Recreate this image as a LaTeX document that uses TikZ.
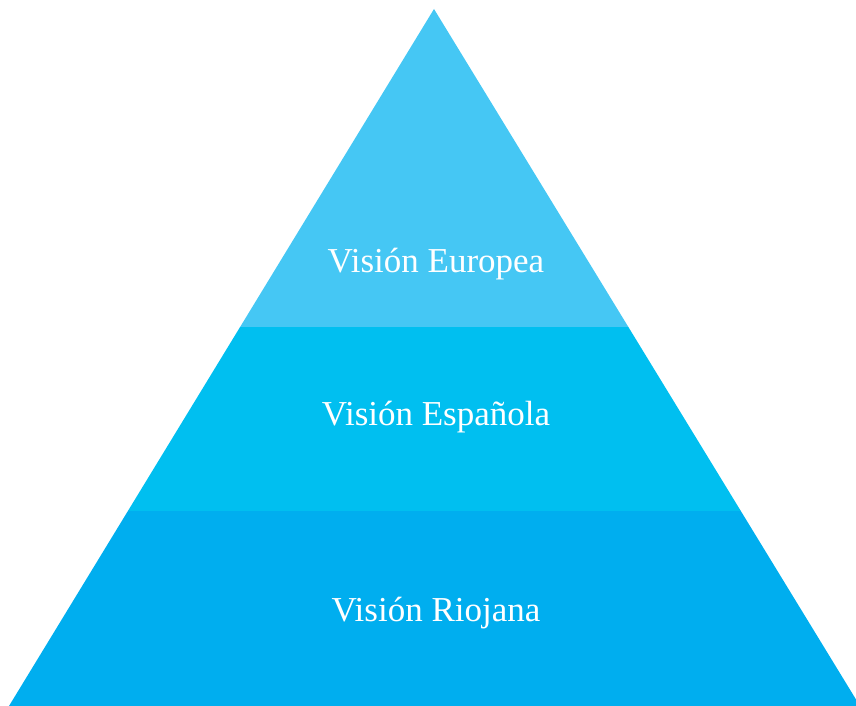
\documentclass[tikz,border=0pt]{standalone}
\usepackage{fontspec}
\setmainfont{Liberation Serif}
\definecolor{topblue}{RGB}{69,199,244}
\definecolor{midblue}{RGB}{0,191,240}
\definecolor{lowblue}{RGB}{0,174,239}
\begin{document}
\begin{tikzpicture}[x=1pt,y=-1pt,
  lbl/.style={text=white,font=\fontsize{35}{41}\selectfont,anchor=base,inner sep=0pt}]
\useasboundingbox (0,0) rectangle (856,706);
\begin{scope}
\clip (0,0) rectangle (856,706);
\coordinate (apex) at (434,9);
\coordinate (bl) at (9,706);
\coordinate (br) at (860,706);
% band boundaries
\path (apex) -- (bl) coordinate[pos=0.4562] (l1) coordinate[pos=0.7202] (l2);
\path (apex) -- (br) coordinate[pos=0.4562] (r1) coordinate[pos=0.7202] (r2);
\fill[lowblue] (l2) -- (r2) -- (br) -- (bl) -- cycle;
\fill[midblue] (l1) -- (r1) -- (r2) -- (l2) -- cycle;
\fill[topblue] (apex) -- (r1) -- (l1) -- cycle;
\end{scope}
\node[lbl] (eu) at (436,272) {Visión Europea};
\node[lbl] (es) at (436,425) {Visión Española};
\node[lbl] (ri) at (436,621) {Visión Riojana};
\end{tikzpicture}
\end{document}
